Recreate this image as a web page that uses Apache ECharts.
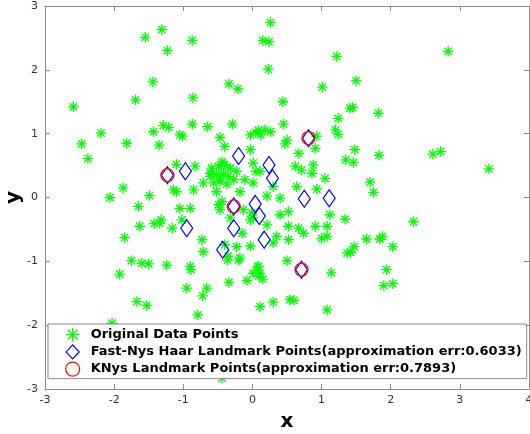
<!DOCTYPE html>
<html>
<head>
<meta charset="utf-8">
<script src="https://cdn.jsdelivr.net/npm/echarts@6/dist/echarts.min.js"></script>
<style>
html,body{margin:0;padding:0;background:#fff;}
#chart{width:530px;height:434px;}
</style>
</head>
<body>
<div id="chart"></div>
<script>
// ---- data ----
var xTicks = [-3, -2, -1, 0, 1, 2, 3, 4];
var yTicks = [-3, -2, -1, 0, 1, 2, 3];
var seriesNames = [
  'Original Data Points',
  'Fast-Nys Haar Landmark Points(approximation err:0.6033)',
  'KNys Landmark Points(approximation err:0.7893)'
];
var originalPoints = [
  [-1.31,2.63],[-1.55,2.51],[-1.23,2.30],[-1.44,1.81],[-1.69,1.53],[-2.59,1.42],[-2.19,1.01],[-1.43,1.03],
  [-1.29,1.13],[-1.21,1.10],[-1.05,0.98],[-1.82,0.85],[-2.47,0.84],[-2.38,0.61],[-1.35,0.82],[-1.87,0.15],
  [-2.06,0.00],[-1.49,0.03],[-1.65,-0.14],[-1.63,-0.45],[-1.42,-0.41],[-1.32,-0.35],[-1.34,-0.40],[-1.16,-0.48],
  [-1.85,-0.63],[-1.10,0.52],[-1.14,0.12],[-1.10,0.09],[-1.75,-0.99],[-1.60,-1.03],[-1.50,-1.04],[-1.24,-1.06],
  [-1.92,-1.20],[-1.67,-1.63],[-1.53,-1.69],[-2.03,-1.97],
  [0.26,2.74],[-0.87,2.46],[0.15,2.46],[0.24,2.44],[1.22,2.21],[0.23,2.01],[-0.34,1.78],[-0.21,1.70],
  [-0.86,1.56],[1.01,1.73],[0.44,1.50],[1.24,1.24],[1.41,1.40],[-0.87,1.15],[-0.65,1.11],[-0.29,1.15],
  [0.45,1.15],[-1.01,0.96],[-0.47,0.94],[-0.03,0.98],[0.09,1.05],[0.18,1.06],[0.26,1.03],[0.12,0.98],
  [0.05,1.02],[1.20,1.06],[1.24,0.99],[0.93,0.96],[0.50,0.90],
  [2.83,2.29],[1.50,1.83],[1.45,1.41],[1.82,1.32],[1.48,0.75],[1.35,0.59],[1.46,0.55],[1.83,0.66],
  [2.61,0.68],[2.72,0.72],[3.42,0.45],[1.70,0.24],[1.75,0.08],[1.34,-0.34],[2.33,-0.38],[1.65,-0.65],
  [1.84,-0.65],[1.88,-0.61],[2.03,-0.77],[1.47,-0.77],[1.42,-0.86],[1.94,-1.13],[1.90,-1.38],[2.03,-1.35],
  [0.47,0.84],[0.91,0.77],[-0.40,0.80],[-0.03,0.75],[0.67,0.69],[-0.44,0.56],[-0.83,0.49],[0.05,0.41],
  [0.01,0.54],[0.62,0.49],[0.71,0.43],[0.88,0.51],[0.86,0.38],[1.05,0.30],
  [-0.59,0.46],[-0.49,0.49],[-0.40,0.51],[-0.32,0.46],[-0.42,0.38],[-0.52,0.36],[-0.61,0.38],[-0.35,0.33],
  [-0.27,0.28],[-0.47,0.25],[-0.56,0.23],[-0.71,0.23],[-0.23,0.41],[-0.11,0.28],[0.01,0.23],[0.11,0.41],
  [-0.37,0.21],[-0.61,0.33],[-0.47,0.30],
  [-0.85,0.12],[-0.52,0.09],[-0.18,0.09],[0.30,0.17],[0.64,0.17],[0.93,0.13],
  [0.40,-0.01],[0.21,0.02],[-0.44,-0.06],[-0.49,-0.11],[-0.90,-0.17],[-1.05,-0.17],[-0.47,-0.19],[-0.13,-0.19],
  [0.01,-0.32],[-0.01,-0.24],[0.40,-0.27],[0.52,-0.22],[1.12,-0.27],[-1.02,-0.35],[-0.32,-0.32],[0.21,-0.43],
  [0.52,-0.45],[0.67,-0.48],[0.91,-0.45],[1.08,-0.45],[-0.15,-0.56],[0.35,-0.61],[0.30,-0.71],[0.52,-0.66],
  [0.74,-0.56],[1.08,-0.61],[-0.73,-0.66],[-0.71,-0.85],[-0.40,-0.74],[-0.23,-0.77],[-0.03,-0.76],[-0.18,-0.95],
  [-0.35,-0.92],[0.50,-0.99],[1.37,-0.87],[0.09,-1.08],[-0.90,-1.08],[-0.03,-0.35],[1.00,-0.64],
  [-0.89,-1.13],[-0.95,-1.42],[-0.66,-1.42],[-0.72,-1.54],[-0.34,-1.33],[-0.08,-1.30],[0.01,-1.19],[0.07,-1.09],
  [0.09,-1.23],[0.15,-1.28],[0.11,-1.19],[-0.36,-0.98],[-0.20,-0.98],[1.14,-1.18],[0.11,-1.71],[0.30,-1.64],
  [0.54,-1.60],[0.60,-1.61],[1.08,-1.76],[-0.79,-1.84],[-0.44,-2.83]
];
var fastNysPoints = [
  [-1.23,0.35],[-0.97,0.41],[-0.20,0.65],[0.24,0.51],[0.29,0.30],[0.81,0.93],[0.75,-0.02],[1.11,-0.01],
  [-0.27,-0.14],[0.04,-0.10],[0.10,-0.29],[-0.95,-0.48],[-0.27,-0.48],[0.17,-0.66],[-0.43,-0.82],[0.71,-1.13]
];
var kNysPoints = [
  [-1.23,0.35],[0.81,0.93],[-0.27,-0.14],[0.71,-1.13]
];

// ---- chart ----
var chart = echarts.init(document.getElementById('chart'), null, {renderer: 'canvas'});
var axisGray = '#8a8a8a';
var labelColor = '#333333';
var FONT = 'DejaVu Sans';
var starPath = 'path://M10,0L10,20M0,10L20,10M3,3L17,17M3,17L17,3';
var diamondPath = 'path://M6.5,0L13,7L6.5,14L0,7Z';
var circlePath = 'path://M0,10A10,10,0,1,1,20,10A10,10,0,1,1,0,10Z';

function baseAxis(extra) {
  var a = {
    axisLine: {show: true, onZero: false, lineStyle: {color: axisGray, width: 1}},
    axisTick: {show: true, inside: true, length: 5, lineStyle: {color: axisGray}},
    splitLine: {show: false},
    axisLabel: {color: labelColor, fontFamily: FONT, fontSize: 11}
  };
  for (var k in extra) a[k] = extra[k];
  return a;
}

var option = {
  backgroundColor: '#ffffff',
  animation: false,
  grid: {left: 45, right: 1, top: 6, bottom: 45, outerBoundsMode: 'none'},
  xAxis: [
    baseAxis({type: 'value', position: 'bottom', min: xTicks[0], max: xTicks[xTicks.length - 1], interval: 1,
      name: 'x', nameLocation: 'middle', nameGap: 23, nameMoveOverlap: false,
      nameTextStyle: {fontFamily: FONT, fontWeight: 'bold', fontSize: 20, color: '#000'},
      axisLabel: {color: labelColor, fontFamily: FONT, fontSize: 11, margin: 6}}),
    baseAxis({type: 'value', position: 'top', min: xTicks[0], max: xTicks[xTicks.length - 1], interval: 1,
      axisLabel: {show: false}})
  ],
  yAxis: [
    baseAxis({type: 'value', position: 'left', min: yTicks[0], max: yTicks[yTicks.length - 1], interval: 1,
      name: 'y', nameLocation: 'middle', nameGap: 21, nameMoveOverlap: false,
      nameTextStyle: {fontFamily: FONT, fontWeight: 'bold', fontSize: 20, color: '#000'},
      axisLabel: {color: labelColor, fontFamily: FONT, fontSize: 11, margin: 7}}),
    baseAxis({type: 'value', position: 'right', min: yTicks[0], max: yTicks[yTicks.length - 1], interval: 1,
      axisLabel: {show: false}})
  ],
  legend: {
    orient: 'vertical',
    left: 48, top: 324,
    padding: [3, 5, 2, 17],
    itemWidth: 26, itemHeight: 14, itemGap: 2,
    symbolKeepAspect: true,
    backgroundColor: '#ffffff',
    borderColor: axisGray, borderWidth: 1,
    textStyle: {fontFamily: FONT, fontWeight: 'bold', fontSize: 13, color: '#000', lineHeight: 14},
    data: [
      {name: seriesNames[0], icon: starPath, itemStyle: {color: 'rgba(0,0,0,0)', borderColor: '#00ff00', borderWidth: 1.3}},
      {name: seriesNames[1], icon: diamondPath, itemStyle: {color: 'rgba(0,0,0,0)', borderColor: '#0000ff', borderWidth: 1.2}},
      {name: seriesNames[2], icon: circlePath, itemStyle: {color: 'rgba(0,0,0,0)', borderColor: '#ff0000', borderWidth: 1.2}}
    ]
  },
  series: [
    {
      name: seriesNames[0], type: 'scatter', data: originalPoints,
      symbol: starPath, symbolSize: 10.5,
      itemStyle: {color: 'rgba(0,0,0,0)', borderColor: '#00ff00', borderWidth: 1.3, opacity: 1}
    },
    {
      name: seriesNames[1], type: 'scatter', data: fastNysPoints,
      symbol: 'diamond', symbolSize: [12, 17],
      itemStyle: {color: 'rgba(0,0,0,0)', borderColor: '#0000ff', borderWidth: 1.2, opacity: 1}
    },
    {
      name: seriesNames[2], type: 'scatter', data: kNysPoints,
      symbol: 'circle', symbolSize: 13,
      itemStyle: {color: 'rgba(0,0,0,0)', borderColor: '#ff0000', borderWidth: 1.2, opacity: 1}
    }
  ]
};
chart.setOption(option);
</script>
</body>
</html>
